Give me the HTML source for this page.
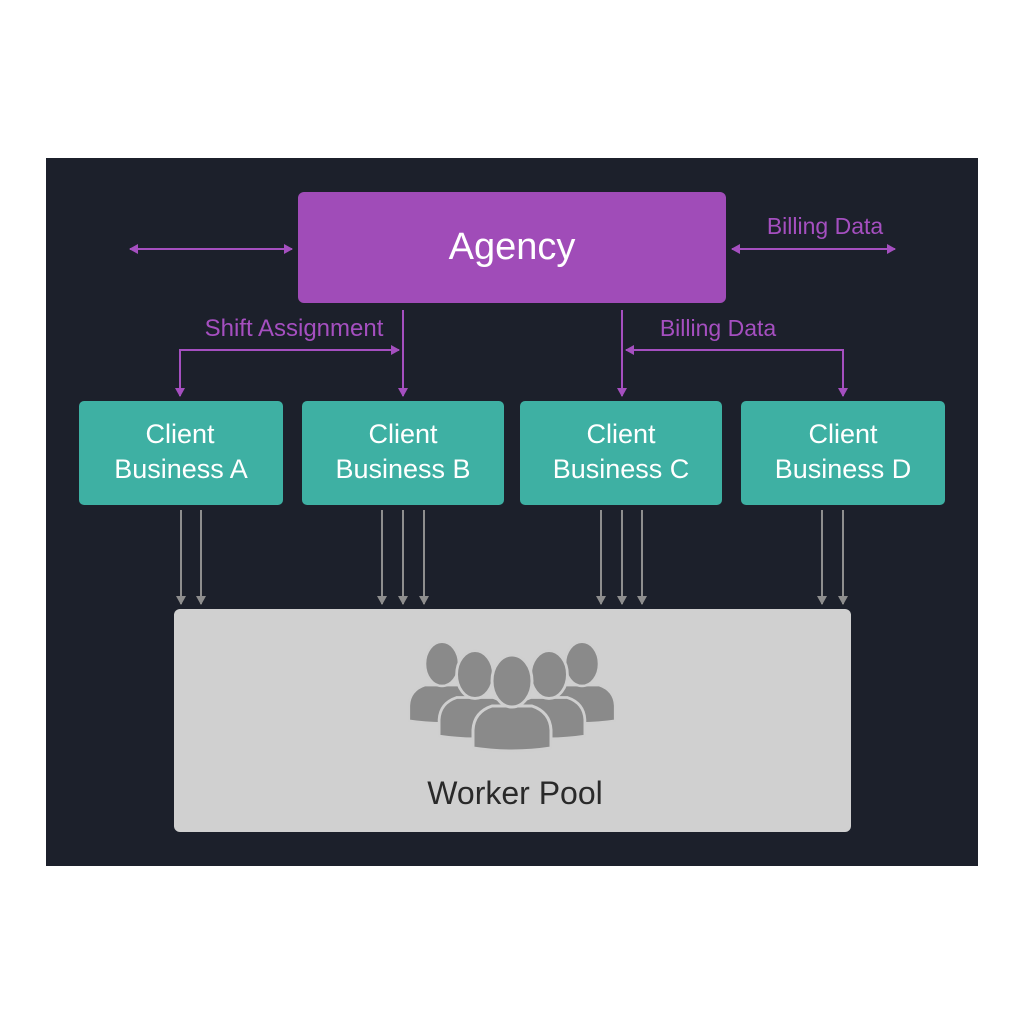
<!DOCTYPE html>
<html><head><meta charset="utf-8"><style>
html,body{margin:0;padding:0;background:#fff;width:1024px;height:1024px;overflow:hidden}
svg text{font-family:"Liberation Sans",sans-serif}
</style></head><body>
<svg width="1024" height="1024" viewBox="0 0 1024 1024" xmlns="http://www.w3.org/2000/svg">
<defs>
<marker id="pa" markerWidth="10" markerHeight="10" refX="8" refY="5" orient="auto-start-reverse" markerUnits="userSpaceOnUse"><path d="M0,0 L9,5 L0,10 Z" fill="#a54fc0"/></marker>
<marker id="ga" markerWidth="10" markerHeight="10" refX="8" refY="5" orient="auto" markerUnits="userSpaceOnUse"><path d="M0,0 L9,5 L0,10 Z" fill="#8e8e8e"/></marker>
<g id="person">
<path d="M-39,48 L-39,30 Q-38,12 -20,6 L20,6 Q38,12 39,30 L39,48 Q0,54 -39,48 Z" fill="#8a8a8a" stroke="#cfcfcf" stroke-width="3"/>
<ellipse cx="0" cy="-19" rx="20" ry="26" fill="#8a8a8a" stroke="#cfcfcf" stroke-width="3"/>
</g>
</defs>
<rect x="46" y="158" width="932" height="708" fill="#1c202b"/>
<rect x="298" y="192" width="428" height="111" rx="6" fill="#a04cb8"/>
<text x="512" y="259" text-anchor="middle" font-size="38" fill="#fff">Agency</text>

<g stroke="#a54fc0" stroke-width="2" fill="none">
<line x1="130" y1="249" x2="292" y2="249" marker-start="url(#pa)" marker-end="url(#pa)"/>
<line x1="732" y1="249" x2="895" y2="249" marker-start="url(#pa)" marker-end="url(#pa)"/>
<line x1="403" y1="310" x2="403" y2="396" marker-end="url(#pa)"/>
<polyline points="180,396 180,350 399,350" marker-start="url(#pa)" marker-end="url(#pa)"/>
<line x1="622" y1="310" x2="622" y2="396" marker-end="url(#pa)"/>
<polyline points="626,350 843,350 843,396" marker-start="url(#pa)" marker-end="url(#pa)"/>
</g>
<g fill="#a54fc0">
<text x="825" y="234" text-anchor="middle" font-size="23">Billing Data</text>
<text x="294" y="336" text-anchor="middle" font-size="24">Shift Assignment</text>
<text x="718" y="336" text-anchor="middle" font-size="23">Billing Data</text>
</g>

<g fill="#3eb0a3">
<rect x="79" y="401" width="204" height="104" rx="5"/>
<rect x="302" y="401" width="202" height="104" rx="5"/>
<rect x="520" y="401" width="202" height="104" rx="5"/>
<rect x="741" y="401" width="204" height="104" rx="5"/>
</g>
<g fill="#fff" font-size="27" text-anchor="middle">
<text x="180" y="443">Client</text><text x="181" y="478">Business A</text>
<text x="403" y="443">Client</text><text x="403" y="478">Business B</text>
<text x="621" y="443">Client</text><text x="621" y="478">Business C</text>
<text x="843" y="443">Client</text><text x="843" y="478">Business D</text>
</g>

<g stroke="#8e8e8e" stroke-width="2">
<line x1="181" y1="510" x2="181" y2="604" marker-end="url(#ga)"/>
<line x1="201" y1="510" x2="201" y2="604" marker-end="url(#ga)"/>
<line x1="382" y1="510" x2="382" y2="604" marker-end="url(#ga)"/>
<line x1="403" y1="510" x2="403" y2="604" marker-end="url(#ga)"/>
<line x1="424" y1="510" x2="424" y2="604" marker-end="url(#ga)"/>
<line x1="601" y1="510" x2="601" y2="604" marker-end="url(#ga)"/>
<line x1="622" y1="510" x2="622" y2="604" marker-end="url(#ga)"/>
<line x1="642" y1="510" x2="642" y2="604" marker-end="url(#ga)"/>
<line x1="822" y1="510" x2="822" y2="604" marker-end="url(#ga)"/>
<line x1="843" y1="510" x2="843" y2="604" marker-end="url(#ga)"/>
</g>

<rect x="174" y="609" width="677" height="223" rx="6" fill="#d0d0d0"/>
<use href="#person" transform="translate(442,680) scale(0.85)"/>
<use href="#person" transform="translate(582,680) scale(0.85)"/>
<use href="#person" transform="translate(475,692) scale(0.92)"/>
<use href="#person" transform="translate(549,692) scale(0.92)"/>
<use href="#person" transform="translate(512,700)"/>
<text x="515" y="804" text-anchor="middle" font-size="32" fill="#2a2a2a">Worker Pool</text>
</svg>
</body></html>
